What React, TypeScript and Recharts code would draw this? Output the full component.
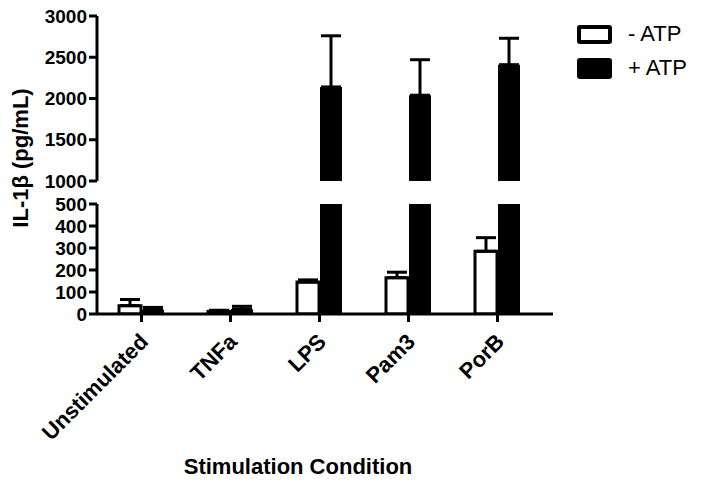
import React from "react";
import { BarChart, Bar, XAxis, YAxis, ErrorBar } from "recharts";

const categories = ["Unstimulated", "TNFa", "LPS", "Pam3", "PorB"];
const minusAtp = [38, 12, 145, 165, 285];
const minusAtpErr = [28, 5, 10, 25, 62];
const plusAtp = [20, 22, 2140, 2040, 2410];
const plusAtpErr = [10, 13, 620, 430, 320];

const topTicks = [1000, 1500, 2000, 2500, 3000];
const bottomTicks = [0, 100, 200, 300, 400, 500];

const BREAK = 1000;
const LOW_MAX = 500;

const topData = categories.map((name, i) => ({
  name,
  minus: minusAtp[i] >= BREAK ? minusAtp[i] : null,
  minusErr: [0, minusAtp[i] >= BREAK ? minusAtpErr[i] : 0],
  plus: plusAtp[i] >= BREAK ? plusAtp[i] : null,
  plusErr: [0, plusAtp[i] >= BREAK ? plusAtpErr[i] : 0],
}));

const bottomData = categories.map((name, i) => ({
  name,
  minus: minusAtp[i],
  minusErr: [0, minusAtp[i] <= LOW_MAX ? minusAtpErr[i] : 0],
  plus: plusAtp[i],
  plusErr: [0, plusAtp[i] <= LOW_MAX ? plusAtpErr[i] : 0],
}));

const FONT = "Arial, 'Liberation Sans', sans-serif";
const tickStyle = { fill: "#000", fontSize: 19, fontWeight: 700, fontFamily: FONT };
const axisLine = { stroke: "#000", strokeWidth: 3 };

const XTick = ({ x, y, payload }: any) => (
  <g transform={`translate(${x + 8},${y + 19})`}>
    <text x={0} y={0} textAnchor="end" transform="rotate(-45)" style={{ ...tickStyle, fontSize: 22 }}>
      {payload.value}
    </text>
  </g>
);

export default function App() {
  return (
    <div style={{ position: "absolute", left: 0, top: 0, width: 703, height: 482, background: "#fff", fontFamily: FONT }}>
      <div style={{ position: "absolute", left: 0, top: 0 }}>
        <BarChart width={703} height={200} data={topData} margin={{ top: 16, right: 150, bottom: 19, left: 0 }} barSize={22} barGap={1}>
          <XAxis dataKey="name" hide padding={{ left: 0, right: 11 }} />
          <YAxis
            width={97}
            domain={[BREAK, 3000]}
            ticks={topTicks}
            interval={0}
            allowDataOverflow
            axisLine={axisLine}
            tickLine={axisLine}
            tickSize={8}
            tick={tickStyle}
          />
          <Bar dataKey="minus" fill="#fff" stroke="#000" strokeWidth={3} isAnimationActive={false}>
            <ErrorBar dataKey="minusErr" width={10} stroke="#000" strokeWidth={3} />
          </Bar>
          <Bar dataKey="plus" fill="#000" isAnimationActive={false}>
            <ErrorBar dataKey="plusErr" width={10} stroke="#000" strokeWidth={3} />
          </Bar>
        </BarChart>
      </div>
      <div style={{ position: "absolute", left: 0, top: 0 }}>
        <BarChart width={703} height={482} data={bottomData} margin={{ top: 204, right: 150, bottom: 68, left: 0 }} barSize={22} barGap={1}>
          <XAxis
            dataKey="name"
            height={100}
            padding={{ left: 0, right: 11 }}
            axisLine={axisLine}
            tickLine={axisLine}
            tickSize={8}
            tick={<XTick />}
            interval={0}
          />
          <YAxis
            width={97}
            domain={[0, LOW_MAX]}
            ticks={bottomTicks}
            interval={0}
            allowDataOverflow
            axisLine={axisLine}
            tickLine={axisLine}
            tickSize={8}
            tick={tickStyle}
          />
          <Bar dataKey="minus" fill="#fff" stroke="#000" strokeWidth={3} isAnimationActive={false}>
            <ErrorBar dataKey="minusErr" width={10} stroke="#000" strokeWidth={3} />
          </Bar>
          <Bar dataKey="plus" fill="#000" isAnimationActive={false}>
            <ErrorBar dataKey="plusErr" width={10} stroke="#000" strokeWidth={3} />
          </Bar>
        </BarChart>
      </div>
      <div
        style={{
          position: "absolute",
          left: 21,
          top: 158,
          transform: "translate(-50%, -50%) rotate(-90deg)",
          whiteSpace: "nowrap",
          fontSize: 22,
          fontWeight: 700,
          color: "#000",
        }}
      >
        IL-1β (pg/mL)
      </div>
      <div
        style={{
          position: "absolute",
          left: 298,
          top: 467,
          transform: "translate(-50%, -50%)",
          whiteSpace: "nowrap",
          fontSize: 22,
          fontWeight: 700,
          color: "#000",
        }}
      >
        Stimulation Condition
      </div>
      <div style={{ position: "absolute", left: 577, top: 23, fontSize: 22, color: "#000" }}>
        <div style={{ display: "flex", alignItems: "center", height: 22 }}>
          <span style={{ display: "inline-block", width: 27, height: 11, border: "4px solid #000", background: "#fff", borderRadius: 3 }} />
          <span style={{ marginLeft: 16 }}>- ATP</span>
        </div>
        <div style={{ display: "flex", alignItems: "center", height: 22, marginTop: 12 }}>
          <span style={{ display: "inline-block", width: 35, height: 21, background: "#000", borderRadius: 3 }} />
          <span style={{ marginLeft: 16 }}>+ ATP</span>
        </div>
      </div>
    </div>
  );
}
